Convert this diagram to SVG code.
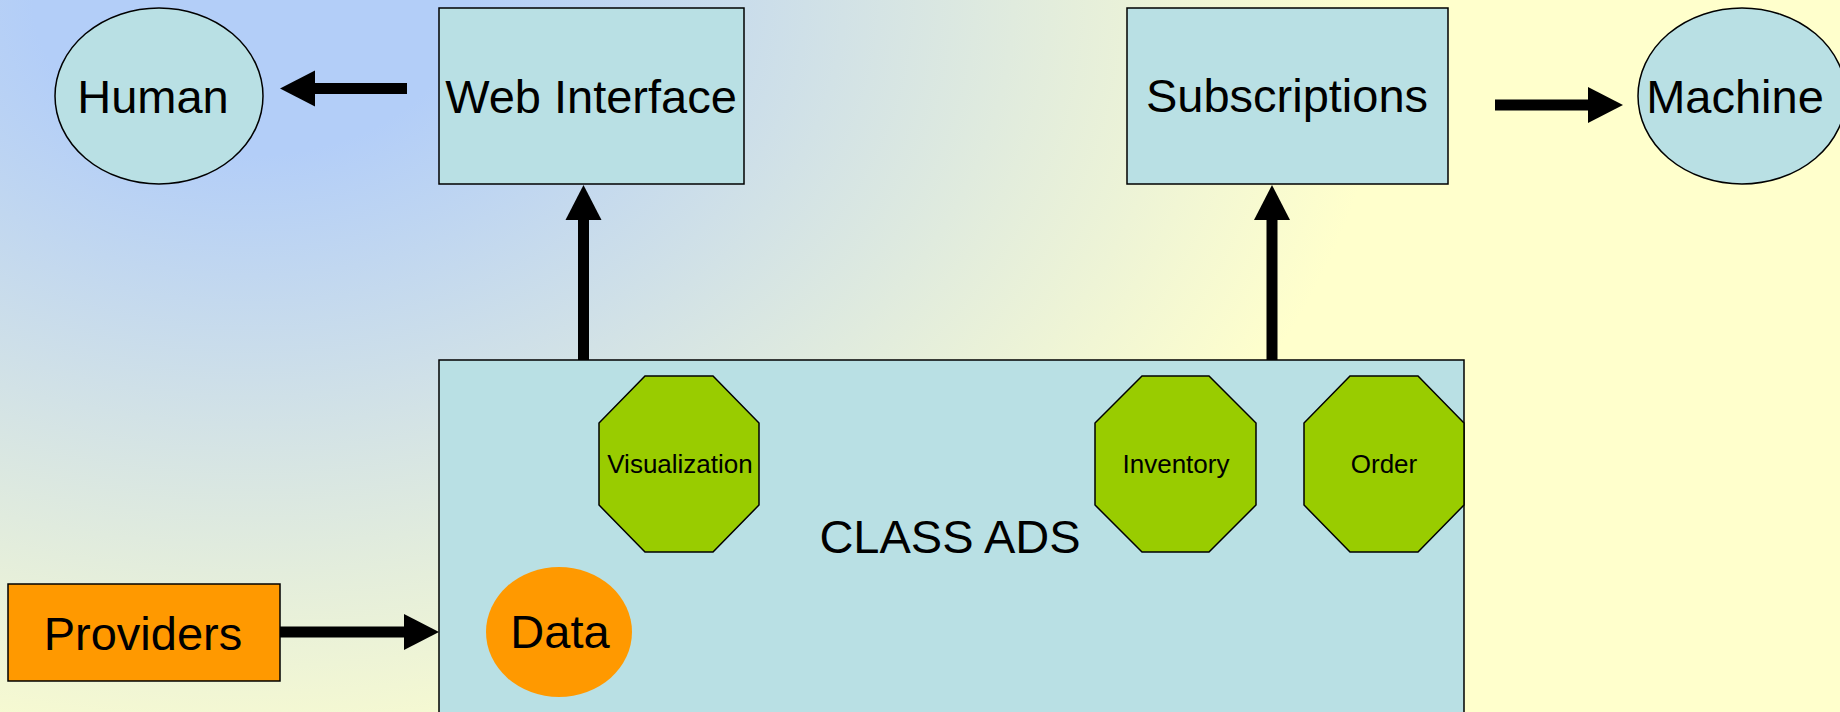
<svg xmlns="http://www.w3.org/2000/svg" width="1840" height="712" viewBox="0 0 1840 712">
<defs>
<radialGradient id="bg" gradientUnits="userSpaceOnUse" cx="0" cy="0" r="1140" fx="0" fy="0" gradientTransform="translate(250,0) scale(1,0.714)">
<stop offset="0" stop-color="#b3cef8"/>
<stop offset="0.19" stop-color="#b3cef8"/>
<stop offset="1" stop-color="#ffffcc"/>
</radialGradient>
<marker id="ah" markerUnits="userSpaceOnUse" markerWidth="36" markerHeight="36" refX="0" refY="18" orient="auto" viewBox="0 0 36 36" overflow="visible">
<path d="M0,0 L35,18 L0,36 z" fill="#000"/>
</marker>
<style>
.box{fill:#b9e0e4;stroke:#000;stroke-width:1.5}
.oct{fill:#99cc00;stroke:#000;stroke-width:1.5}
.org{fill:#ff9900;stroke:#000;stroke-width:1.5}
.dat{fill:#ff9900;stroke:none}
.t{font-family:"Liberation Sans",Arial,sans-serif;font-size:47px;fill:#000;text-anchor:middle}
.s{font-family:"Liberation Sans",Arial,sans-serif;font-size:26px;fill:#000;text-anchor:middle}
.c{stroke:#000;stroke-width:11;fill:none;marker-end:url(#ah)}
</style>
</defs>
<rect x="0" y="0" width="1840" height="712" fill="url(#bg)"/>
<g id="classads">
<rect class="box" x="439" y="360" width="1025" height="362"/>
<text class="t" x="950" y="553">CLASS ADS</text>
</g>
<g id="human">
<ellipse class="box" cx="159" cy="96" rx="104" ry="88"/>
<text class="t" x="153" y="113">Human</text>
</g>
<g id="webinterface">
<rect class="box" x="439" y="8" width="305" height="176"/>
<text class="t" x="591" y="113">Web Interface</text>
</g>
<g id="subscriptions">
<rect class="box" x="1127" y="8" width="321" height="176"/>
<text class="t" x="1287" y="112">Subscriptions</text>
</g>
<g id="machine">
<ellipse class="box" cx="1742" cy="96" rx="104" ry="88"/>
<text class="t" x="1735" y="113">Machine</text>
</g>
<g id="providers">
<rect class="org" x="8" y="584" width="272" height="97"/>
<text class="t" x="143" y="650">Providers</text>
</g>
<g id="data">
<ellipse class="dat" cx="559" cy="632" rx="73" ry="65"/>
<text class="t" x="560" y="648">Data</text>
</g>
<g id="visualization">
<polygon class="oct" points="645,376 713,376 759,423 759,505 713,552 645,552 599,505 599,423"/>
<text class="s" x="680" y="473">Visualization</text>
</g>
<g id="inventory">
<polygon class="oct" points="1142,376 1209,376 1256,423 1256,505 1209,552 1142,552 1095,505 1095,423"/>
<text class="s" x="1176" y="473">Inventory</text>
</g>
<g id="order">
<polygon class="oct" points="1350,376 1418,376 1464,423 1464,505 1418,552 1350,552 1304,505 1304,423"/>
<text class="s" x="1384" y="473">Order</text>
</g>
<g id="connectors">
<line class="c" x1="407" y1="88.5" x2="315" y2="88.5"/>
<line class="c" x1="1495" y1="105" x2="1588" y2="105"/>
<line class="c" x1="583.5" y1="360" x2="583.5" y2="220"/>
<line class="c" x1="1272" y1="360" x2="1272" y2="220"/>
<line class="c" x1="280" y1="632" x2="404" y2="632"/>
</g>
</svg>
